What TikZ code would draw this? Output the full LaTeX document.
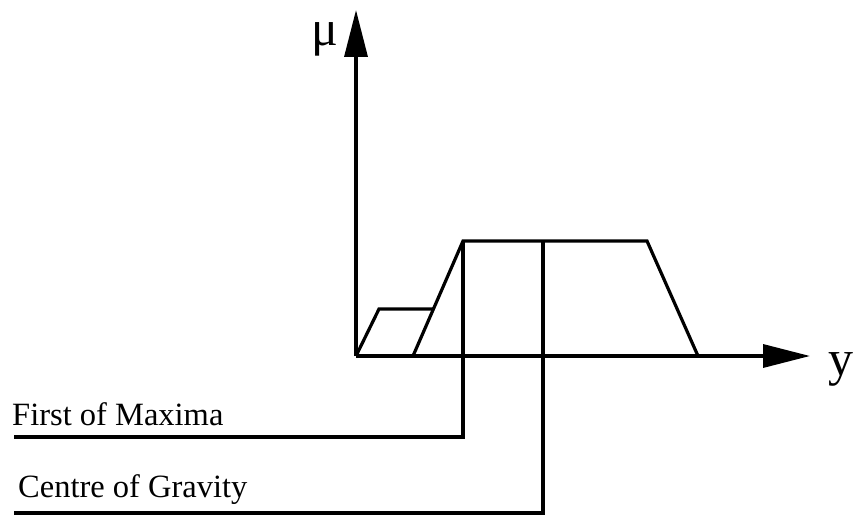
\documentclass[tikz,border=0pt]{standalone}
\usepackage{fontspec}
\setmainfont{Liberation Serif}
\usetikzlibrary{arrows.meta}
\begin{document}
\begin{tikzpicture}[x=1pt,y=-1pt,
  ln/.style={line width=3.2pt,line join=miter},
  ax/.style={line width=3.4pt,-{Triangle[length=47pt,width=23pt]}},
  lbl/.style={anchor=base west,inner sep=0pt,font=\fontsize{32.5}{36}\selectfont},
  big/.style={anchor=base west,inner sep=0pt,font=\fontsize{50}{54}\selectfont}]
\useasboundingbox (0,0) rectangle (853,516);
% key points
\coordinate (O) at (356,356);
\coordinate (ytip) at (356,10);
\coordinate (xtip) at (810,356);
\coordinate (s1) at (379,309);
\coordinate (s2) at (433,309);
\coordinate (b0) at (413,356);
\coordinate (b1) at (463,241);
\coordinate (b2) at (647,241);
\coordinate (b3) at (698,356);
\coordinate (fm) at (463,437);
\coordinate (fmL) at (14,437);
\coordinate (cg0) at (543,241);
\coordinate (cg) at (543,513);
\coordinate (cgL) at (14,513);
% axes
\draw[ax] (O) -- (ytip);
\draw[ax] (O) -- (xtip);
% membership functions
\draw[ln] (O) -- (s1) -- (s2);
\draw[ln] (b0) -- (b1) -- (b2) -- (b3);
% defuzzification markers
\draw[ln] (b1) -- (fm) -- (fmL);
\draw[ln] (cg0) -- (cg) -- (cgL);
% labels
\node[big] (mu) at (311,46) {μ};
\node[big] (ylab) at (828,375) {y};
\node[lbl] (t1) at (12,425) {First of Maxima};
\node[lbl] (t2) at (18,497) {Centre of Gravity};
\end{tikzpicture}
\end{document}
